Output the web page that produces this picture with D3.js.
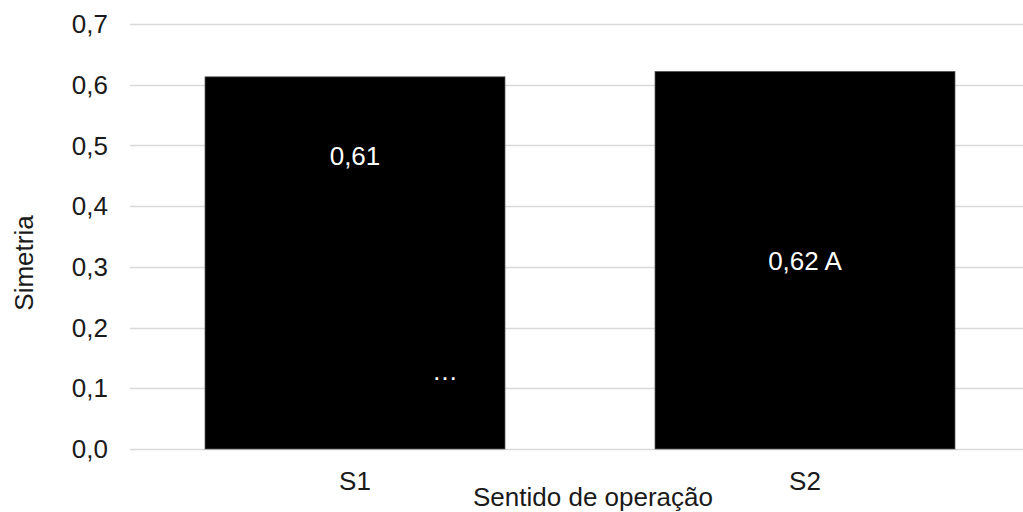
<!DOCTYPE html>
<html>
<head>
<meta charset="utf-8">
<script src="https://cdn.jsdelivr.net/npm/d3@7"></script>
<style>
  html, body { margin: 0; padding: 0; background: #fff; }
  svg { display: block; }
  text { font-family: "Liberation Sans", Arial, Helvetica, sans-serif; }
</style>
</head>
<body>
<svg id="chart" width="1023" height="512"></svg>
<script>
// ---- data ----
const categories = ["S1", "S2"];
const values = [0.613, 0.622];
const labelTexts = ["0,61", "0,62 A"];
const labelValues = [0.468, 0.295];     // vertical anchor of each label, in data units
const extraLabelTexts = ["\u2026", ""];  // stray extra label inside S1
const extraLabelValues = [0.114, 0];
const yTicks = [0, 0.1, 0.2, 0.3, 0.4, 0.5, 0.6, 0.7];
const yTitle = "Simetria";
const xTitle = "Sentido de operação";

// ---- layout ----
const W = 1023, H = 512;
const plot = { left: 130, right: 1030, top: 24, bottom: 449 };
const fs = 26;

const svg = d3.select("#chart");

const x = d3.scaleBand()
  .domain(categories)
  .range([plot.left, plot.right])
  .paddingInner(1/3)
  .paddingOuter(1/6);

const y = d3.scaleLinear()
  .domain([0, 0.7])
  .range([plot.bottom, plot.top]);

const fmt = v => d3.format(".1f")(v).replace(".", ",");

// gridlines
svg.append("g").selectAll("line")
  .data(yTicks)
  .join("line")
  .attr("x1", plot.left)
  .attr("x2", plot.right)
  .attr("y1", d => Math.round(y(d)) + 0.5)
  .attr("y2", d => Math.round(y(d)) + 0.5)
  .attr("stroke", "#d9d9d9")
  .attr("stroke-width", 1.5);

// y tick labels
svg.append("g").selectAll("text")
  .data(yTicks)
  .join("text")
  .attr("x", 108)
  .attr("y", d => y(d))
  .attr("dy", "0.35em")
  .attr("text-anchor", "end")
  .attr("font-size", fs)
  .attr("fill", "#1a1a1a")
  .text(fmt);

// bars
const data = categories.map((c, i) => ({ c, v: values[i], lab: labelTexts[i], lv: labelValues[i], ex: extraLabelTexts[i], exv: extraLabelValues[i] }));

svg.append("g").selectAll("rect")
  .data(data)
  .join("rect")
  .attr("x", d => x(d.c))
  .attr("width", x.bandwidth())
  .attr("y", d => y(d.v))
  .attr("height", d => y(0) - y(d.v))
  .attr("fill", "#000")
  .attr("stroke", "#595959")
  .attr("stroke-width", 0.75);

// data labels
svg.append("g").selectAll("text")
  .data(data)
  .join("text")
  .attr("x", d => x(d.c) + x.bandwidth() / 2)
  .attr("y", d => y(d.lv))
  .attr("text-anchor", "middle")
  .attr("font-size", fs)
  .attr("fill", "#fff")
  .text(d => d.lab);

// extra stray label
svg.append("g").selectAll("text")
  .data(data.filter(d => d.ex))
  .join("text")
  .attr("x", d => x(d.c) + x.bandwidth() * 0.8)
  .attr("y", d => y(d.exv))
  .attr("text-anchor", "middle")
  .attr("font-size", fs)
  .attr("fill", "#fff")
  .text(d => d.ex);

// category labels
svg.append("g").selectAll("text")
  .data(categories)
  .join("text")
  .attr("x", d => x(d) + x.bandwidth() / 2)
  .attr("y", 490)
  .attr("text-anchor", "middle")
  .attr("font-size", fs)
  .attr("fill", "#1a1a1a")
  .text(d => d);

// axis titles
svg.append("text")
  .attr("x", 593)
  .attr("y", 506)
  .attr("text-anchor", "middle")
  .attr("font-size", fs)
  .attr("fill", "#1a1a1a")
  .text(xTitle);

svg.append("text")
  .attr("transform", "translate(33,263) rotate(-90)")
  .attr("text-anchor", "middle")
  .attr("font-size", fs)
  .attr("fill", "#1a1a1a")
  .text(yTitle);
</script>
</body>
</html>
